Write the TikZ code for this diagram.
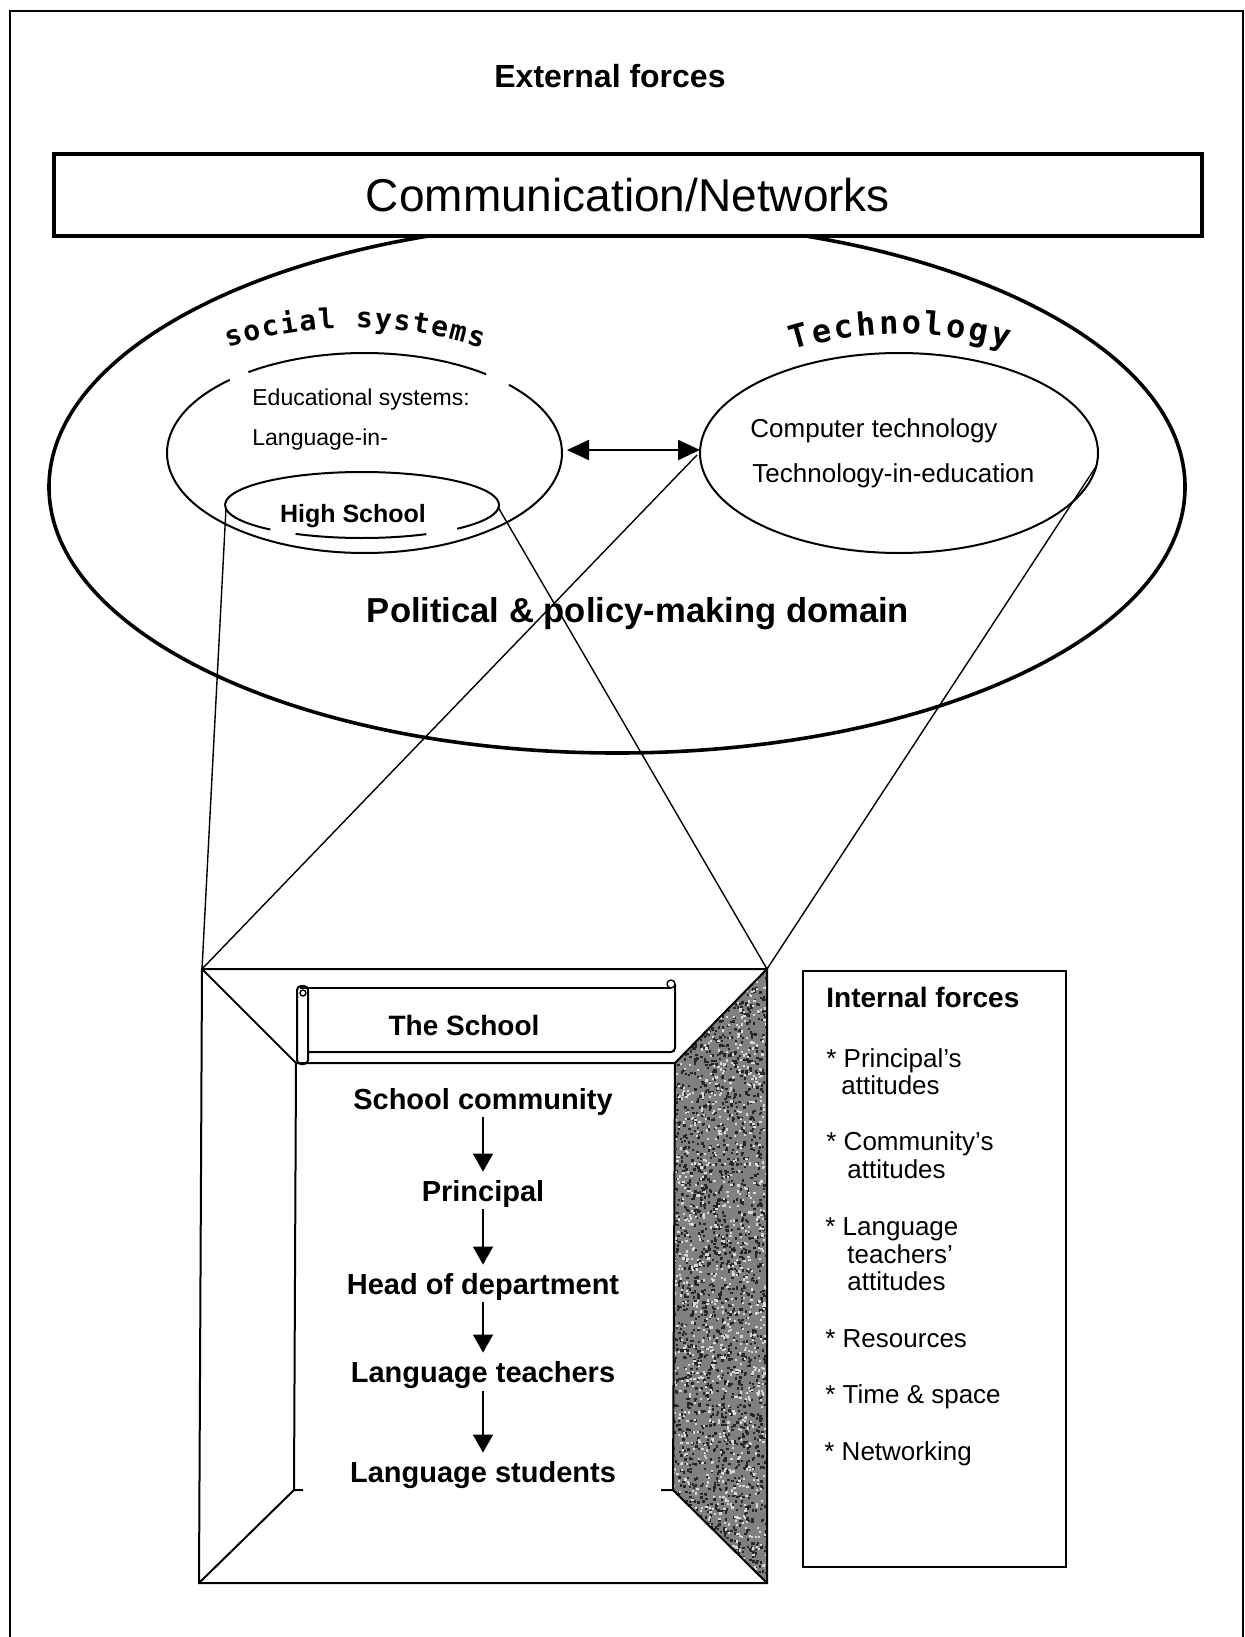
\documentclass[tikz,border=0pt]{standalone}
\usepackage{fontspec}
\setmainfont{Liberation Sans}
\newfontfamily\curvefont{DejaVu Sans Mono}
\usetikzlibrary{arrows.meta,decorations.text}
\newcommand\setfs[1]{\fontsize{#1}{#1}\selectfont}
\begin{document}
\begin{tikzpicture}[x=0.5pt,y=-0.5pt,
  thinln/.style={line width=0.7pt},
  medln/.style={line width=1pt},
  heavyln/.style={line width=1.8pt},
  downarr/.style={-{Triangle[length=9pt,width=10pt]},line width=0.8pt,shorten >=3pt},
  dblarr/.style={{Triangle[length=11pt,width=10pt]}-{Triangle[length=11pt,width=10pt]},line width=1.1pt},
  lbl/.style={inner sep=0pt},
  item/.style={font=\bfseries\setfs{14.5},inner sep=1pt,anchor=base},
  force/.style={font=\setfs{13},inner sep=0pt,anchor=base west}
]
\useasboundingbox (0,0) rectangle (1245,1637);

% frame
\draw[line width=1.3pt] (10,1637) -- (10,11) -- (1243,11) -- (1243,1637);

% title
\node[lbl,font=\bfseries\setfs{16},anchor=base] (ext) at (610,88) {External forces};

% big ellipse (domain)
\draw[heavyln] (617,487) ellipse [x radius=568, y radius=266];

% communication box (covers top of ellipse)
\node[draw,heavyln,fill=white,minimum width=574pt,minimum height=41pt,inner sep=0pt,font=\setfs{23}] (comm) at (628,195) {Communication/Networks};

% curved headings
\path[decorate,decoration={text along path,text align=fit to path,text={|\curvefont\bfseries\setfs{14}|social systems}}]
  (228,348) .. controls (308,321) and (400,321) .. (482,348);
\path[decorate,decoration={text along path,text align=fit to path,text={|\curvefont\bfseries\setfs{16}|Technology}}]
  (793,350) .. controls (860,329) and (940,329) .. (1008,348);

% educational systems ellipse (with gaps)
\draw[medln] (364.5,453) ++(-52:197.5 and 100) arc[start angle=-52,end angle=-126,x radius=197.5,y radius=100];
\draw[medln] (364.5,453) ++(-133:197.5 and 100) arc[start angle=-133,end angle=-403,x radius=197.5,y radius=100];
\node[lbl,font=\setfs{11.5},anchor=base west] (edu1) at (252,405) {Educational systems:};
\node[lbl,font=\setfs{11.5},anchor=base west] (edu2) at (252,445) {Language-in-};

% high school ellipse (with gaps)
\draw[medln] (362,505) ++(-241:137 and 33) arc[start angle=-241,end angle=-298,x radius=137,y radius=33];
\draw[medln] (362,505) ++(-314:137 and 33) arc[start angle=-314,end angle=-588,x radius=137,y radius=33];
\node[lbl,font=\bfseries\setfs{12.5},anchor=base] (hs) at (353,522) {High School};

% technology ellipse
\draw[medln] (899,453) ellipse [x radius=199, y radius=100];
\node[lbl,font=\setfs{13},anchor=base west] (ct1) at (750,437) {Computer technology};
\node[lbl,font=\setfs{13},anchor=base west] (ct2) at (752,482) {Technology-in-education};

% double arrow between systems
\coordinate (eduE) at (567,450);
\coordinate (tecW) at (700,450);
\draw[dblarr] (eduE) -- (tecW);

% domain label
\node[lbl,font=\bfseries\setfs{17.3},anchor=base] (pol) at (638,622) {Political \& policy-making domain};

% school box coordinates
\coordinate (bTL) at (202,969);
\coordinate (bTR) at (767,969);
\coordinate (bBL) at (199,1583);
\coordinate (bBR) at (767,1583);
\coordinate (iTL) at (296,1063);
\coordinate (iTR) at (675,1063);
\coordinate (iBL) at (294,1490);
\coordinate (iBR) at (673,1490);

% zoom lines
\coordinate (hsL) at (226,508);
\coordinate (hsR) at (498,507);
\coordinate (teL) at (697,455);
\coordinate (teR) at (1095,468);
\draw[thinln] (hsL) -- (bTL);
\draw[thinln] (hsR) -- (bTR);
\draw[thinln] (teL) -- (bTL);
\draw[thinln] (teR) -- (bTR);

% shaded right wall (speckled)
\begin{scope}
  \clip (bTR) -- (bBR) -- (iBR) -- (iTR) -- cycle;
  \fill[black!50] (bTR) -- (bBR) -- (iBR) -- (iTR) -- cycle;
  \pgfmathsetseed{7}
  \foreach \i in {1,...,2200} {
    \pgfmathsetmacro\xx{670+98*rnd}
    \pgfmathsetmacro\yy{966+620*rnd}
    \fill[black!85] (\xx,\yy) rectangle ++(2.4,2.4);
  }
  \foreach \i in {1,...,1200} {
    \pgfmathsetmacro\xx{670+98*rnd}
    \pgfmathsetmacro\yy{966+620*rnd}
    \fill[black!15] (\xx,\yy) rectangle ++(2.2,2.2);
  }
\end{scope}

% box outline
\draw[medln] (bTL) -- (bTR) -- (bBR) -- (bBL) -- cycle;
\draw[medln] (bTL) -- (iTL) -- (iTR) -- (bTR);
\draw[medln] (bBL) -- (iBL);
\draw[medln] (bBR) -- (iBR);
\draw[medln] (iTL) -- (iBL) -- ++(9,0);
\draw[medln] (iTR) -- (iBR) -- ++(-12,0);

% banner
\draw[medln,rounded corners=2pt] (297,986) rectangle (308,1064);
\draw[thinln] (303,993) circle[radius=3];
\draw[medln] (300,988) -- (671,988);
\draw[medln,rounded corners=2pt] (675,984) -- (675,1052) -- (308,1052);
\draw[thinln] (671,984) circle[radius=4];
\node[lbl,font=\bfseries\setfs{14},anchor=base] (school) at (464,1035) {The School};

% hierarchy
\node[item] (sc) at (483,1109) {School community};
\node[item] (pr) at (483,1201) {Principal};
\node[item] (hd) at (483,1294) {Head of department};
\node[item] (lt) at (483,1382) {Language teachers};
\node[item] (ls) at (483,1482) {Language students};
\draw[downarr] (sc) -- (pr);
\draw[downarr] (pr) -- (hd);
\draw[downarr] (hd) -- (lt);
\draw[downarr] (lt) -- (ls);

% internal forces box
\draw[medln] (803,971) rectangle (1066,1567);
\node[lbl,font=\bfseries\setfs{14},anchor=base west] (intf) at (826,1007) {Internal forces};
\node[force] (f1) at (826,1067) {* Principal's};
\node[force] (f1b) at (841,1094) {attitudes};
\node[force] (f2) at (826,1150) {* Community's};
\node[force] (f2b) at (847,1178) {attitudes};
\node[force] (f3) at (825,1235) {* Language};
\node[force] (f3b) at (847,1263) {teachers'};
\node[force] (f3c) at (847,1290) {attitudes};
\node[force] (f4) at (825,1347) {* Resources};
\node[force] (f5) at (825,1403) {* Time \& space};
\node[force] (f6) at (824,1460) {* Networking};
\end{tikzpicture}
\end{document}
